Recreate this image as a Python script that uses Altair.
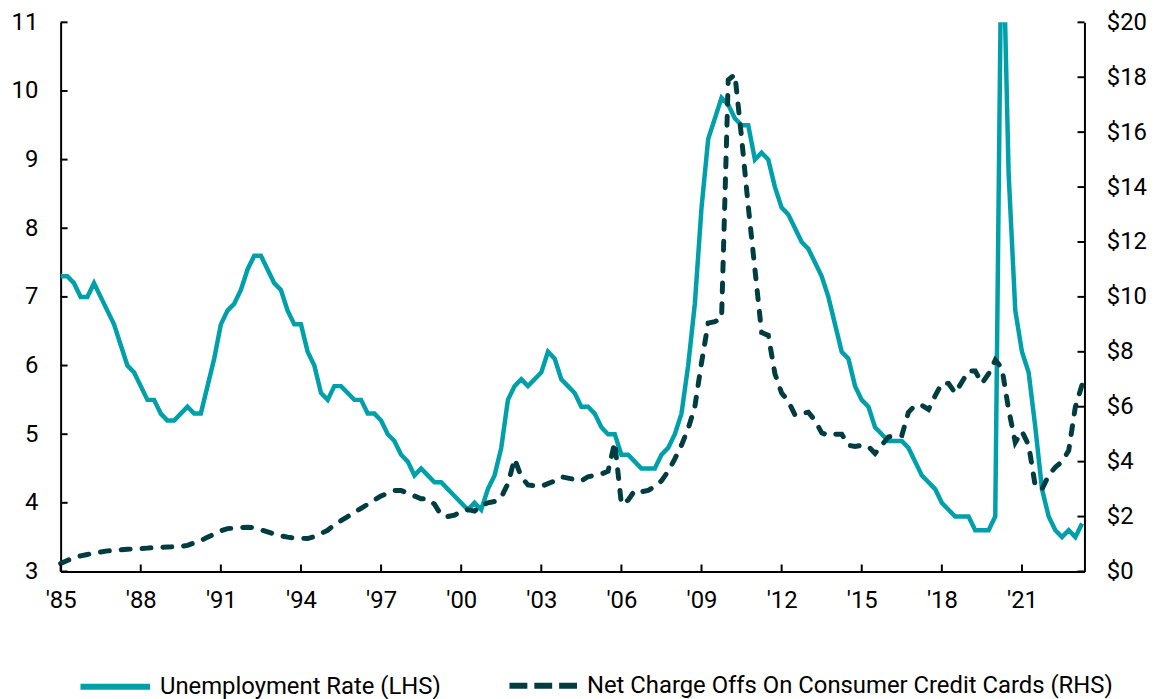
import altair as alt
import pandas as pd

U_LABEL = "Unemployment Rate (LHS)"
N_LABEL = "Net Charge Offs On Consumer Credit Cards (RHS)"
TEAL = "#00A0AA"
DARK = "#003C40"

# quarterly, 1985Q1 .. 2023Q2
start_year = 1985
unemployment = [
    7.3, 7.3, 7.2, 7.0,   7.0, 7.2, 7.0, 6.8,   6.6, 6.3, 6.0, 5.9,   5.7, 5.5, 5.5, 5.3,
    5.2, 5.2, 5.3, 5.4,   5.3, 5.3, 5.7, 6.1,   6.6, 6.8, 6.9, 7.1,   7.4, 7.6, 7.6, 7.4,
    7.2, 7.1, 6.8, 6.6,   6.6, 6.2, 6.0, 5.6,   5.5, 5.7, 5.7, 5.6,   5.5, 5.5, 5.3, 5.3,
    5.2, 5.0, 4.9, 4.7,   4.6, 4.4, 4.5, 4.4,   4.3, 4.3, 4.2, 4.1,   4.0, 3.9, 4.0, 3.9,
    4.2, 4.4, 4.8, 5.5,   5.7, 5.8, 5.7, 5.8,   5.9, 6.2, 6.1, 5.8,   5.7, 5.6, 5.4, 5.4,
    5.3, 5.1, 5.0, 5.0,   4.7, 4.7, 4.6, 4.5,   4.5, 4.5, 4.7, 4.8,   5.0, 5.3, 6.0, 6.9,
    8.3, 9.3, 9.6, 9.9,   9.8, 9.6, 9.5, 9.5,   9.0, 9.1, 9.0, 8.6,   8.3, 8.2, 8.0, 7.8,
    7.7, 7.5, 7.3, 7.0,   6.6, 6.2, 6.1, 5.7,   5.5, 5.4, 5.1, 5.0,   4.9, 4.9, 4.9, 4.8,
    4.6, 4.4, 4.3, 4.2,   4.0, 3.9, 3.8, 3.8,   3.8, 3.6, 3.6, 3.6,   3.8, 13.0, 8.8, 6.8,
    6.2, 5.9, 5.1, 4.2,   3.8, 3.6, 3.5, 3.6,   3.5, 3.7,
]
charge_offs = [
    0.29, 0.40, 0.50, 0.57,   0.62, 0.67, 0.71, 0.75,   0.77, 0.79, 0.81, 0.82,   0.83, 0.85, 0.87, 0.88,
    0.89, 0.90, 0.91, 0.95,   1.04, 1.12, 1.25, 1.36,   1.48, 1.56, 1.58, 1.60,   1.61, 1.60, 1.52, 1.44,
    1.36, 1.30, 1.25, 1.22,   1.21, 1.20, 1.27, 1.38,   1.50, 1.70, 1.85, 2.00,   2.15, 2.30, 2.45, 2.60,
    2.75, 2.85, 2.95, 2.95,   2.85, 2.75, 2.65, 2.64,   2.45, 2.05, 2.00, 2.05,   2.20, 2.25, 2.20, 2.40,
    2.50, 2.55, 2.70, 3.20,   4.10, 3.45, 3.15, 3.12,   3.10, 3.20, 3.30, 3.45,   3.40, 3.35, 3.30, 3.45,
    3.50, 3.55, 3.65, 4.70,   2.45, 2.60, 2.95, 2.90,   2.95, 3.10, 3.30, 3.65,   4.10, 4.60, 5.20, 6.00,
    7.60, 9.05, 9.10, 9.20,   17.90, 18.10, 15.80, 13.30,   11.00, 8.70, 8.60, 7.20,   6.50, 6.20, 5.70, 5.75,
    5.80, 5.50, 5.05, 4.95,   5.00, 5.00, 4.60, 4.55,   4.60, 4.55, 4.30, 4.60,   4.90, 4.95, 4.95, 5.80,
    6.05, 6.05, 5.90, 6.40,   6.85, 6.85, 6.50, 6.90,   7.30, 7.30, 6.85, 7.20,   7.70, 7.40, 5.90, 4.70,
    5.10, 4.60, 3.10, 3.00,   3.50, 3.80, 4.00, 4.40,   6.00, 6.80,
]

x_ticks = [1985, 1988, 1991, 1994, 1997, 2000, 2003, 2006, 2009, 2012, 2015, 2018, 2021]
left_ticks = [3, 4, 5, 6, 7, 8, 9, 10, 11]
right_ticks = [0, 2, 4, 6, 8, 10, 12, 14, 16, 18, 20]

n = len(unemployment)
t = [start_year + i / 4 for i in range(n)]
df = pd.DataFrame({"t": t, "u": unemployment, "n": charge_offs, "su": U_LABEL, "sn": N_LABEL})

W, H = 1031, 553
FONT = "Roboto"
FS = 24
X_DOMAIN = [1985, 2023.34]
LEG_Y = 631

x_enc = alt.X(
    "t:Q",
    scale=alt.Scale(domain=X_DOMAIN, nice=False, zero=False),
    axis=alt.Axis(
        values=x_ticks, labelExpr="\"'\" + substring(toString(datum.value), 2, 4)",
        title=None, ticks=False, tickSize=0, grid=False, labelPadding=17,
        domainColor="black", domainWidth=2, labelFont=FONT, labelFontSize=FS,
        labelColor="black", labelFlush=False, labelOverlap=False,
    ),
)

unemp = alt.Chart(df).mark_line(strokeWidth=4.5, clip=True).encode(
    x=x_enc,
    y=alt.Y(
        "u:Q",
        scale=alt.Scale(domain=[3, 11], nice=False, zero=False),
        axis=alt.Axis(
            orient="left", values=left_ticks, title=None, ticks=False, tickSize=0,
            grid=False, labelPadding=23, domainColor="black", domainWidth=2,
            labelFont=FONT, labelFontSize=FS, labelColor="black", labelFlush=False,
        ),
    ),
    color=alt.Color(
        "su:N",
        scale=alt.Scale(domain=[U_LABEL], range=[TEAL]),
        legend=alt.Legend(
            orient="none", legendX=17, legendY=LEG_Y, title=None, symbolType="stroke",
            symbolSize=4900, symbolStrokeWidth=6, labelOffset=7, labelFont=FONT,
            labelFontSize=FS, labelColor="black", padding=0, labelLimit=0,
        ),
    ),
)

charge = alt.Chart(df).mark_line(strokeWidth=5, strokeDash=[9, 12], strokeCap="round").encode(
    x=alt.X("t:Q"),
    y=alt.Y(
        "n:Q",
        scale=alt.Scale(domain=[0, 20], nice=False, zero=False),
        axis=alt.Axis(
            orient="right", values=right_ticks, title=None, ticks=False, tickSize=0,
            grid=False, labelPadding=22, domainColor="black", domainWidth=2,
            labelExpr="'$' + datum.value", labelFont=FONT, labelFontSize=FS,
            labelColor="black", labelFlush=False,
        ),
    ),
    color=alt.Color(
        "sn:N",
        scale=alt.Scale(domain=[N_LABEL], range=[DARK]),
        legend=alt.Legend(
            orient="none", legendX=449, legendY=LEG_Y, title=None, symbolType="stroke",
            symbolSize=4624, symbolStrokeWidth=6, symbolDash=[18, 7], labelOffset=7,
            labelFont=FONT, labelFontSize=FS, labelColor="black", padding=0, labelLimit=0,
        ),
    ),
)

lt_df = pd.DataFrame({"v": left_ticks})
rt_df = pd.DataFrame({"v": right_ticks})
xt_df = pd.DataFrame({"v": x_ticks})

left_tick_marks = alt.Chart(lt_df).mark_rule(color="black", strokeWidth=2).encode(
    y=alt.Y("v:Q", scale=alt.Scale(domain=[3, 11], nice=False, zero=False), axis=None),
    x=alt.value(0), x2=alt.value(7),
)
right_tick_marks = alt.Chart(rt_df).mark_rule(color="black", strokeWidth=2).encode(
    y=alt.Y("v:Q", scale=alt.Scale(domain=[0, 20], nice=False, zero=False), axis=None),
    x=alt.value(W - 7), x2=alt.value(W),
)
x_tick_marks = alt.Chart(xt_df).mark_rule(color="black", strokeWidth=2).encode(
    x=alt.X("v:Q"),
    y=alt.value(H - 7), y2=alt.value(H),
)

chart = (
    alt.layer(unemp, charge, left_tick_marks, right_tick_marks, x_tick_marks)
    .resolve_scale(y="independent", color="independent")
    .properties(
        width=W, height=H,
        autosize=alt.AutoSizeParams(type="none"),
        padding={"left": 53, "top": 12, "right": 65, "bottom": 126},
        background="white",
    )
    .configure_view(stroke=None)
)

chart.save("out.html", embed_options={"renderer": "svg", "actions": False})
